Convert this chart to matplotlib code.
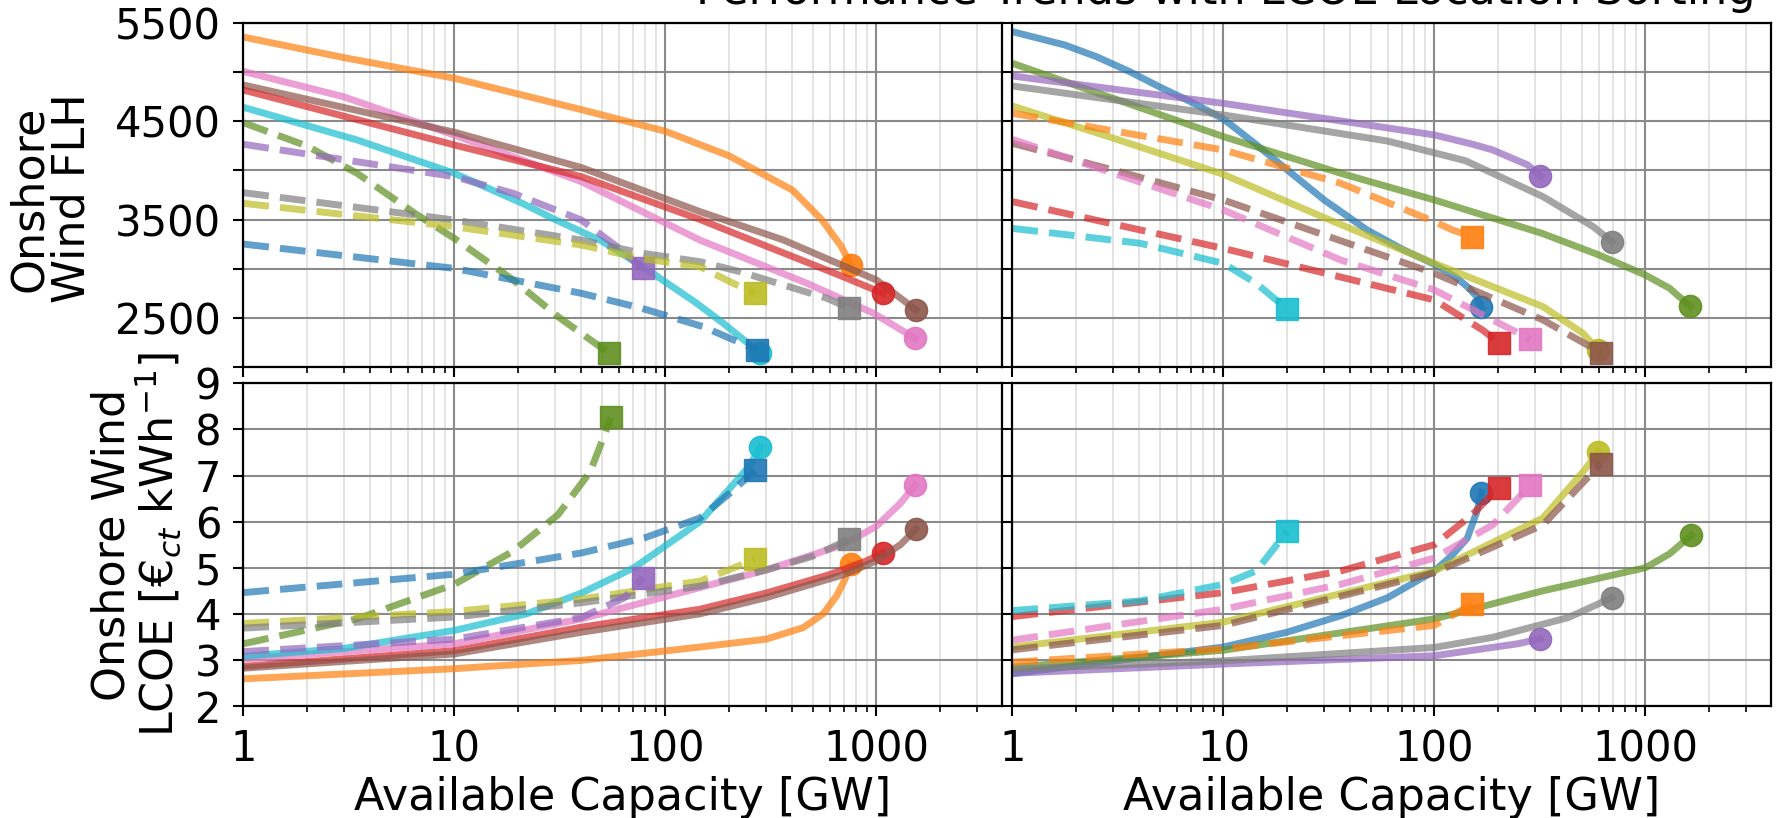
import matplotlib.pyplot as plt
from matplotlib.ticker import FixedLocator, FuncFormatter, LogLocator, NullFormatter

plt.rcParams['font.family'] = ['DejaVu Sans']
plt.rcParams['font.size'] = 30

colors = {
    'blue': '#1f77b4', 'orange': '#ff7f0e', 'green': '#5f8f1f', 'red': '#d62728',
    'purple': '#9467bd', 'brown': '#8c564b', 'pink': '#e377c2', 'gray': '#7f7f7f',
    'olive': '#bcbd22', 'cyan': '#17becf',
}

# which regions are drawn solid (circle end) in each column, the rest dashed (square end)
left_solid = ['orange', 'red', 'brown', 'pink', 'cyan']
right_solid = ['blue', 'green', 'purple', 'gray', 'olive']

# full load hours, left column: name -> (capacity GW, FLH)
flh_left = {
    'orange': ([1, 3, 10, 40, 100, 200, 400, 550, 680, 757],
               [5360, 5150, 4940, 4620, 4400, 4150, 3800, 3500, 3230, 3040]),
    'pink': ([1, 3, 10, 40, 146, 468, 968, 1525],
             [5010, 4750, 4360, 3886, 3290, 2851, 2545, 2290]),
    'brown': ([1, 10, 40, 146, 362, 1000, 1542],
              [4871, 4390, 4030, 3580, 3292, 2884, 2579]),
    'red': ([1, 10, 40, 146, 300, 673, 1072],
            [4820, 4260, 3937, 3500, 3230, 2930, 2749]),
    'cyan': ([1, 3.46, 10, 21, 30, 50, 82, 140, 188, 281],
             [4644, 4311, 3971, 3665, 3500, 3280, 2990, 2650, 2443, 2140]),
    'green': ([1, 2, 3.46, 6.5, 10, 19, 31, 49, 54],
              [4487, 4250, 3971, 3563, 3308, 2884, 2510, 2204, 2136]),
    'purple': ([1, 10, 19, 40, 59, 78],
               [4267, 3937, 3767, 3495, 3223, 3002]),
    'gray': ([1, 10, 40, 76, 146, 225, 582, 745],
             [3774, 3495, 3291, 3160, 3070, 2969, 2698, 2596]),
    'olive': ([1, 10, 40, 76, 146, 209, 266],
              [3665, 3427, 3240, 3105, 3019, 2851, 2749]),
    'blue': ([1, 10, 40, 76, 150, 271],
             [3250, 3002, 2748, 2600, 2410, 2171]),
}

# full load hours, right column
flh_right = {
    'blue': ([1, 1.77, 2.5, 3.6, 5, 7, 10, 14, 21, 30, 48, 70, 98, 125, 143, 158, 167],
             [5415, 5279, 5160, 5007, 4850, 4700, 4525, 4280, 3971, 3700, 3393, 3200, 3053,
              2920, 2816, 2720, 2605]),
    'green': ([1, 10, 36, 100, 324, 600, 1000, 1300, 1626],
              [5092, 4345, 3971, 3699, 3359, 3140, 2934, 2800, 2618]),
    'purple': ([1, 10, 100, 150, 189, 277, 318],
               [4963, 4684, 4362, 4270, 4209, 4056, 3944]),
    'gray': ([1, 10, 60, 140, 189, 327, 566, 694],
             [4861, 4566, 4300, 4100, 3971, 3733, 3427, 3274]),
    'olive': ([1, 3, 10, 30, 100, 327, 506, 597],
              [4657, 4330, 3960, 3520, 3053, 2612, 2340, 2170]),
    'orange': ([1, 10, 36, 100, 122, 151],
               [4583, 4209, 3869, 3478, 3393, 3325]),
    'brown': ([1, 3, 10, 100, 327, 615],
              [4277, 4005, 3699, 2952, 2476, 2143]),
    'pink': ([1, 10, 36, 100, 189, 285],
             [4317, 3597, 3087, 2782, 2476, 2279]),
    'red': ([1, 10, 100, 169, 202],
            [3682, 3206, 2680, 2374, 2245]),
    'cyan': ([1, 4.05, 10, 14.3, 20.1],
             [3410, 3257, 3053, 2850, 2584]),
}

# LCOE in ct/kWh, left column
lcoe_left = {
    'orange': ([1, 10, 40, 146, 300, 450, 560, 650, 710, 757],
               [2.59, 2.81, 2.99, 3.28, 3.45, 3.7, 4.0, 4.4, 4.75, 5.08]),
    'red': ([1, 10, 40, 146, 300, 600, 900, 1072],
            [2.86, 3.2, 3.71, 4.1, 4.45, 4.85, 5.15, 5.32]),
    'brown': ([1, 10, 40, 146, 300, 700, 1000, 1300, 1542],
              [2.82, 3.13, 3.6, 4.0, 4.35, 4.85, 5.15, 5.5, 5.84]),
    'pink': ([1, 10, 40, 146, 300, 700, 1000, 1300, 1525],
             [3.02, 3.35, 3.89, 4.57, 4.95, 5.5, 5.9, 6.4, 6.79]),
    'cyan': ([1, 3, 10, 22, 40, 71, 146, 200, 250, 281],
             [3.08, 3.25, 3.64, 4.0, 4.45, 5.0, 6.0, 6.7, 7.2, 7.62]),
    'green': ([1, 3.46, 10, 19, 31, 44, 52, 55],
              [3.35, 3.89, 4.64, 5.36, 6.15, 7.08, 7.94, 8.26]),
    'blue': ([1, 10, 40, 80, 146, 200, 266],
             [4.46, 4.86, 5.32, 5.65, 6.08, 6.6, 7.11]),
    'olive': ([1, 10, 40, 146, 266],
              [3.79, 4.05, 4.32, 4.71, 5.18]),
    'gray': ([1, 10, 40, 146, 300, 500, 745],
             [3.69, 3.93, 4.24, 4.6, 4.95, 5.25, 5.62]),
    'purple': ([1, 10, 40, 64, 78],
               [3.18, 3.45, 3.92, 4.35, 4.78]),
}

# LCOE in ct/kWh, right column
lcoe_right = {
    'blue': ([1, 10, 20, 36, 60, 100, 120, 143, 159, 167],
             [2.7, 3.28, 3.6, 3.96, 4.35, 4.93, 5.25, 5.64, 6.22, 6.63]),
    'green': ([1, 10, 100, 327, 1000, 1300, 1645],
              [2.84, 3.21, 3.89, 4.5, 5.0, 5.3, 5.7]),
    'purple': ([1, 10, 100, 248, 318],
               [2.71, 2.91, 3.09, 3.35, 3.46]),
    'gray': ([1, 10, 100, 189, 432, 694],
             [2.8, 2.98, 3.27, 3.49, 3.92, 4.35]),
    'olive': ([1, 10, 100, 327, 506, 597],
              [3.28, 3.82, 4.93, 6.08, 7.08, 7.51]),
    'orange': ([1, 10, 100, 151],
               [2.95, 3.24, 3.75, 4.21]),
    'brown': ([1, 10, 100, 327, 615],
              [3.22, 3.75, 4.89, 5.93, 7.26]),
    'pink': ([1, 10, 36, 100, 189, 285],
             [3.43, 4.1, 4.64, 5.21, 5.93, 6.79]),
    'red': ([1, 10, 36, 100, 151, 202],
            [3.94, 4.46, 4.93, 5.5, 6.15, 6.74]),
    'cyan': ([1, 4.05, 10, 14.3, 20.1],
             [4.07, 4.28, 4.64, 4.93, 5.79]),
}

flh_ticks = [2000, 2500, 3000, 3500, 4000, 4500, 5000, 5500]
flh_labels = [2500, 3500, 4500, 5500]
lcoe_ticks = [2, 3, 4, 5, 6, 7, 8, 9]
x_ticks = [1, 10, 100, 1000]


def draw(ax, data, solid):
    for name, (x, y) in data.items():
        c = colors[name]
        if name in solid:
            ls, mk = '-', 'o'
        else:
            ls, mk = '--', 's'
        ax.plot(x, y, ls, color=c, lw=5, alpha=0.7)
        ax.plot(x[-1], y[-1], mk, color=c, ms=16, alpha=0.9)


def style(ax):
    ax.set_xscale('log')
    ax.set_xlim(1, 3950)
    ax.xaxis.set_major_locator(FixedLocator(x_ticks))
    ax.xaxis.set_major_formatter(FuncFormatter(lambda v, p: '%d' % v))
    ax.xaxis.set_minor_locator(LogLocator(base=10, subs=range(2, 10), numticks=20))
    ax.xaxis.set_minor_formatter(NullFormatter())
    ax.grid(True, which='major', color='#8a8a8a', lw=1.5)
    ax.grid(True, which='minor', axis='x', color='#dedede', lw=1.2)
    ax.set_axisbelow(True)
    ax.tick_params(which='major', length=7, width=1.5, pad=9)
    ax.tick_params(which='minor', length=4, width=1.2)
    for s in ax.spines.values():
        s.set_linewidth(1.6)


fig = plt.figure(figsize=(17.79, 8.18), dpi=100)
ax_tl = fig.add_axes([0.1368, 0.5517, 0.4266, 0.4198])
ax_tr = fig.add_axes([0.5691, 0.5517, 0.4266, 0.4198])
ax_bl = fig.add_axes([0.1368, 0.1369, 0.4266, 0.3945])
ax_br = fig.add_axes([0.5691, 0.1369, 0.4266, 0.3945])

draw(ax_tl, flh_left, left_solid)
draw(ax_tr, flh_right, right_solid)
draw(ax_bl, lcoe_left, left_solid)
draw(ax_br, lcoe_right, right_solid)

for ax in [ax_tl, ax_tr, ax_bl, ax_br]:
    style(ax)

for ax in [ax_tl, ax_tr]:
    ax.set_ylim(2000, 5500)
    ax.yaxis.set_major_locator(FixedLocator(flh_ticks))
    ax.yaxis.set_major_formatter(FuncFormatter(lambda v, p: '%d' % v if v in flh_labels else ''))
    ax.tick_params(axis='x', labelbottom=False)

for ax in [ax_bl, ax_br]:
    ax.set_ylim(2, 9)
    ax.yaxis.set_major_locator(FixedLocator(lcoe_ticks))
    ax.set_xlabel('Available Capacity [GW]', fontsize=32, labelpad=4)

for ax in [ax_tr, ax_br]:
    ax.tick_params(axis='y', labelleft=False)

ax_tl.set_ylabel('Onshore\nWind FLH', fontsize=32, linespacing=1.0)
ax_tl.yaxis.set_label_coords(-0.197, 0.49)
ax_bl.set_ylabel('Onshore Wind\nLCOE [€$_{ct}$ kWh$^{-1}$]', fontsize=32, linespacing=1.0)
ax_bl.yaxis.set_label_coords(-0.079, 0.5)

fig.text(0.689, 0.9951, 'Performance Trends with LCOE Location Sorting',
         ha='center', va='baseline', fontsize=32)

fig.savefig('out.png', dpi=100)
